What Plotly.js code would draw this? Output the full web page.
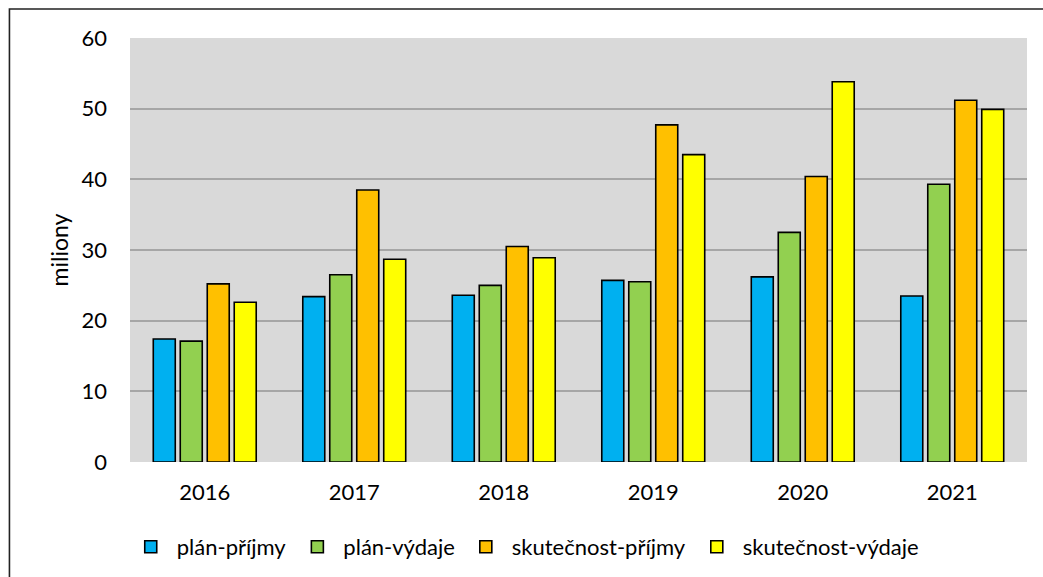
<!DOCTYPE html>
<html>
<head>
<meta charset="utf-8">
<script src="https://cdn.plot.ly/plotly-3.0.1.min.js"></script>
<style>
html,body{margin:0;padding:0;background:#fff;}
#chart{width:1043px;height:577px;}
</style>
</head>
<body>
<div id="chart"></div>
<script>
const years = ['2016','2017','2018','2019','2020','2021'];
const seriesNames = ['plán-příjmy','plán-výdaje','skutečnost-příjmy','skutečnost-výdaje'];
const planPrijmy = [17.4, 23.4, 23.6, 25.7, 26.2, 23.5];
const planVydaje = [17.1, 26.5, 25.0, 25.5, 32.5, 39.3];
const skutPrijmy = [25.2, 38.5, 30.5, 47.7, 40.4, 51.2];
const skutVydaje = [22.6, 28.7, 28.9, 43.5, 53.8, 49.9];
const yTicks = [0, 10, 20, 30, 40, 50, 60];
const colors = ['#00B0F0', '#92D050', '#FFC000', '#FFFF00'];

const values = [planPrijmy, planVydaje, skutPrijmy, skutVydaje];
const FONT = 'Lato, "Open Sans", sans-serif';
const FS = 22;

const traces = values.map((v, i) => ({
  type: 'bar',
  name: seriesNames[i],
  x: years,
  y: v,
  marker: {color: colors[i], line: {color: '#000000', width: 1.6}},
  hoverinfo: 'x+y+name'
}));

const layout = {
  width: 1043,
  height: 577,
  margin: {l: 130, r: 16, t: 38, b: 115},
  paper_bgcolor: '#ffffff',
  plot_bgcolor: '#D9D9D9',
  barmode: 'group',
  bargap: 0.278,
  bargroupgap: 0.185,
  font: {family: FONT, size: FS, color: '#000000'},
  showlegend: true,
  legend: {
    orientation: 'h',
    xref: 'container', yref: 'container',
    x: 0.1196, xanchor: 'left',
    y: 0.052, yanchor: 'middle',
    itemwidth: 42,
    font: {family: FONT, size: FS, color: '#000000'},
    itemclick: false, itemdoubleclick: false,
    traceorder: 'normal'
  },
  xaxis: {
    type: 'category',
    tickfont: {family: FONT, size: FS, color: '#000000'},
    showgrid: false,
    showline: false,
    ticks: '',
    ticklabelstandoff: 15
  },
  yaxis: {
    range: [0, 60],
    tickvals: yTicks,
    ticktext: yTicks.map(String),
    tickfont: {family: FONT, size: FS, color: '#000000'},
    showgrid: true,
    gridcolor: '#A6A6A6',
    gridwidth: 1.5,
    zeroline: false,
    showline: false,
    ticks: '',
    ticklabelstandoff: 22,
    title: {text: 'miliony', font: {family: FONT, size: FS + 1, color: '#000000'}, standoff: 6}
  },
  shapes: [{
    type: 'rect', xref: 'paper', yref: 'paper',
    x0: -0.1344, x1: 1.2, y0: -0.5, y1: 1.0685,
    line: {color: '#222222', width: 1.6},
    fillcolor: 'rgba(0,0,0,0)',
    layer: 'above'
  }]
};

Plotly.newPlot('chart', traces, layout, {displayModeBar: false});
</script>
</body>
</html>
